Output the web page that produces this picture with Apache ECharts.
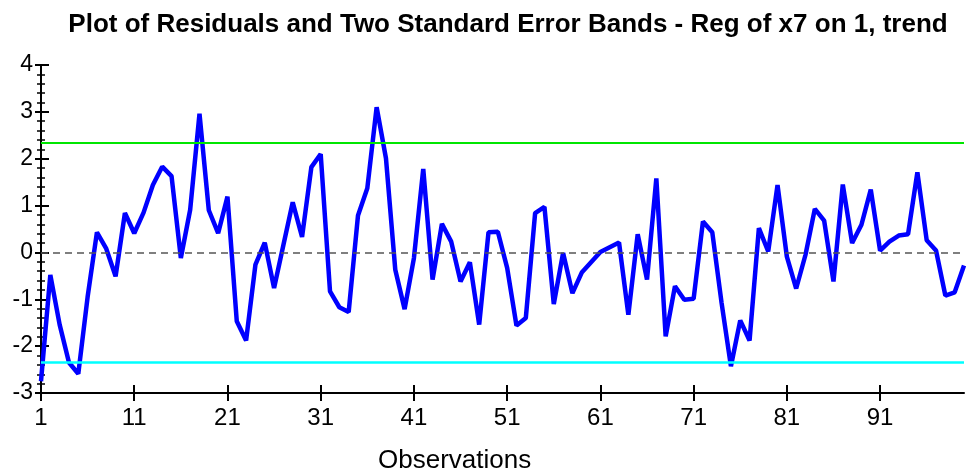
<!DOCTYPE html>
<html>
<head>
<meta charset="utf-8">
<script src="https://cdn.jsdelivr.net/npm/echarts@6/dist/echarts.min.js"></script>
<style>
  html, body { margin: 0; padding: 0; background: #fff; }
  #chart { width: 970px; height: 474px; }
</style>
</head>
<body>
<div id="chart"></div>
<script>
// residuals, observations 1..100
var residuals = [
  -2.75, -0.48, -1.54, -2.35, -2.59, -0.95, 0.43, 0.08, -0.51, 0.84,
  0.41, 0.85, 1.44, 1.83, 1.63, -0.12, 0.91, 2.96, 0.90, 0.41,
  1.19, -1.47, -1.88, -0.26, 0.21, -0.76, 0.16, 1.07, 0.33, 1.82,
  2.10, -0.83, -1.17, -1.27, 0.79, 1.37, 3.10, 2.01, -0.37, -1.21,
  -0.12, 1.78, -0.58, 0.61, 0.23, -0.62, -0.21, -1.54, 0.43, 0.44,
  -0.33, -1.56, -1.40, 0.84, 0.97, -1.10, -0.01, -0.87, -0.43, -0.21,
  0.01, 0.11, 0.21, -1.33, 0.39, -0.58, 1.58, -1.79, -0.72, -1.01,
  -0.99, 0.66, 0.43, -1.08, -2.43, -1.45, -1.88, 0.52, 0.02, 1.44,
  -0.09, -0.77, -0.05, 0.93, 0.68, -0.62, 1.45, 0.20, 0.59, 1.34,
  0.04, 0.23, 0.36, 0.39, 1.71, 0.26, 0.04, -0.92, -0.85, -0.28
]
var observations = residuals.map(function (v, i) { return String(i + 1) })
var upperBand = 2.35
var lowerBand = -2.35
var yTicks = [-3, -2, -1, 0, 1, 2, 3, 4]

var font = 'Liberation Sans, Arial, sans-serif'
var chart = echarts.init(document.getElementById('chart'))

var catAxis = {
  type: 'category',
  data: observations,
  boundaryGap: false,
  position: 'bottom'
}

chart.setOption({
  animation: false,
  backgroundColor: '#fff',
  title: {
    text: 'Plot of Residuals and Two Standard Error Bands - Reg of x7 on 1, trend',
    left: 503,
    textAlign: 'center',
    top: 7,
    textStyle: { fontFamily: font, fontSize: 26, fontWeight: 'bold', color: '#000' }
  },
  graphic: [{
    type: 'text',
    left: 378,
    top: 448,
    style: { text: 'Observations', font: '26px ' + font, fill: '#000' }
  }],
  grid: { left: 41, right: 6, top: 65, bottom: 81 },
  xAxis: [
    Object.assign({}, catAxis, {
      axisLine: { onZero: false, lineStyle: { color: '#000', width: 2 } },
      axisTick: { interval: 9, length: 8, lineStyle: { color: '#000', width: 2 } },
      axisLabel: { interval: 9, margin: 13, color: '#000', fontFamily: font, fontSize: 24 },
      splitLine: { show: false }
    }),
    Object.assign({}, catAxis, {
      axisLine: { show: false, onZero: false },
      axisTick: { interval: 9, inside: true, length: 8, lineStyle: { color: '#000', width: 2 } },
      axisLabel: { show: false },
      splitLine: { show: false }
    })
  ],
  yAxis: [
    {
      type: 'value', min: yTicks[0], max: yTicks[yTicks.length - 1], interval: 1,
      axisLine: { show: true, lineStyle: { color: '#000', width: 2 } },
      axisTick: { show: true, length: 6, lineStyle: { color: '#000', width: 2 } },
      minorTick: { show: true, splitNumber: 5, length: 4, lineStyle: { color: '#000', width: 1.5 } },
      axisLabel: { margin: 8, color: '#000', fontFamily: font, fontSize: 23 },
      splitLine: { show: false }
    },
    {
      type: 'value', min: yTicks[0], max: yTicks[yTicks.length - 1], interval: 1,
      position: 'left',
      axisLine: { show: false },
      axisTick: { show: true, inside: true, length: 8, lineStyle: { color: '#000', width: 2 } },
      minorTick: { show: true, splitNumber: 5, length: 4, lineStyle: { color: '#000', width: 1.5 } },
      axisLabel: { show: false },
      splitLine: { show: false }
    }
  ],
  series: [
    {
      type: 'line',
      data: residuals,
      showSymbol: false,
      lineStyle: { color: '#0000ff', width: 4.5 },
      z: 3,
      markLine: {
        silent: true,
        symbol: 'none',
        label: { show: false },
        data: [
          { yAxis: upperBand, lineStyle: { color: '#00e600', width: 2, type: 'solid' } },
          { yAxis: 0, lineStyle: { color: '#555', width: 1.5, type: [7, 5] } },
          { yAxis: lowerBand, lineStyle: { color: '#00ffff', width: 2.5, type: 'solid' } }
        ]
      }
    }
  ]
})
</script>
</body>
</html>
